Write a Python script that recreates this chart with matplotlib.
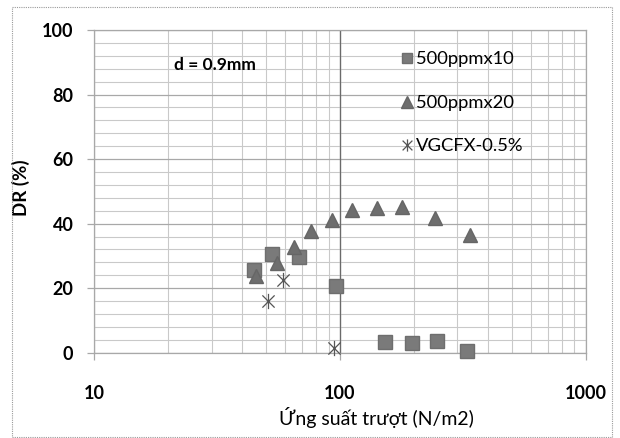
import matplotlib
matplotlib.use("Agg")
import matplotlib.pyplot as plt
import numpy as np
from matplotlib.path import Path
from matplotlib.patches import Rectangle
from matplotlib.ticker import FixedLocator, LogLocator, NullFormatter, MultipleLocator

plt.rcParams['font.family'] = ['Lato', 'DejaVu Sans']

# data
x_500x10 = [44.7, 53.0, 67.9, 96.7, 152.5, 195.6, 248.9, 328.8]
dr_500x10 = [25.7, 30.7, 29.8, 20.6, 3.4, 3.1, 3.6, 0.5]

x_500x20 = [45.7, 55.4, 64.7, 75.9, 92.5, 112.1, 141.6, 179.6, 244.2, 337.3]
dr_500x20 = [23.9, 27.8, 32.7, 37.6, 41.2, 44.2, 44.8, 45.3, 41.7, 36.5]

x_vgcf = [51.1, 58.8, 94.9]
dr_vgcf = [15.9, 22.4, 1.5]

labels = ['500ppmx10', '500ppmx20', 'VGCFX-0.5%']
x_ticks = [10, 100, 1000]
x_tick_labels = ['10', '100', '1000']
y_ticks = [0, 20, 40, 60, 80, 100]

# excel style star: X plus a vertical bar
star = Path([(-1, -1), (1, 1), (-1, 1), (1, -1), (0, -1.25), (0, 1.25)],
            [Path.MOVETO, Path.LINETO, Path.MOVETO, Path.LINETO, Path.MOVETO, Path.LINETO])

fig = plt.figure(figsize=(6.2, 4.38), dpi=100)
ax = fig.add_axes([94.3 / 620, 1 - 352.7 / 438, 491.4 / 620, 322.7 / 438])

ax.set_xscale('log')
ax.set_xlim(10, 1000)
ax.set_ylim(0, 100)

ax.xaxis.set_major_locator(FixedLocator(x_ticks))
ax.set_xticklabels(x_tick_labels)
ax.xaxis.set_minor_locator(LogLocator(base=10, subs=np.arange(2, 10)))
ax.xaxis.set_minor_formatter(NullFormatter())
ax.yaxis.set_major_locator(FixedLocator(y_ticks))
ax.yaxis.set_minor_locator(MultipleLocator(4))

ax.grid(True, which='major', color='#a8a8a8', lw=0.9)
ax.grid(True, which='minor', color='#c9c9c9', lw=0.8)
ax.axvline(100, color='#6a6a6a', lw=0.9, zorder=1)
ax.set_axisbelow(True)
for s in ax.spines.values():
    s.set_color('#a8a8a8')
    s.set_linewidth(0.9)

ax.tick_params(axis='both', which='major', length=5, width=0.9, color='#a8a8a8',
               labelsize=13)
ax.tick_params(axis='x', which='major', pad=18)
ax.tick_params(axis='y', which='major', pad=10)
ax.tick_params(which='minor', length=0)
for lbl in ax.get_xticklabels() + ax.get_yticklabels():
    lbl.set_fontweight('bold')

ax.plot(x_500x10, dr_500x10, ls='none', marker='s', ms=9.5, color='#7a7a7a',
        mec='#6e6e6e', label=labels[0], zorder=3, clip_on=False)
ax.plot(x_500x20, dr_500x20, ls='none', marker='^', ms=10, color='#6e6e6e',
        mec='#666666', label=labels[1], zorder=3, clip_on=False)
ax.plot(x_vgcf, dr_vgcf, ls='none', marker=star, ms=11, color='#555555',
        mew=0.9, label=labels[2], zorder=4, clip_on=False)

leg = ax.legend(loc='upper left', bbox_to_anchor=(0.607, 0.962), frameon=False,
                handlelength=0.6, handletextpad=0.2, labelspacing=1.5,
                borderpad=0, fontsize=13.2, markerscale=0.8)

ax.text(0.162, 0.892, 'd = 0.9mm', transform=ax.transAxes, fontsize=12.5,
        fontweight='bold', va='center', ha='left')

ax.set_ylabel('DR (%)', fontsize=13.5, fontweight='bold')
ax.yaxis.set_label_coords(-0.13, 0.51)
fig.text(376 / 620, 1 - 418 / 438, 'Ứng suất trượt (N/m2)', fontsize=14,
         ha='center', va='center')

# thin frame round the image
fig.patches.append(Rectangle((12 / 620, 1 / 438), 600 / 620, 430 / 438,
                             transform=fig.transFigure, fill=False,
                             ec='#9a9a9a', lw=0.8, ls=(0, (1, 1))))

fig.savefig('out.png', dpi=100, facecolor='white')
